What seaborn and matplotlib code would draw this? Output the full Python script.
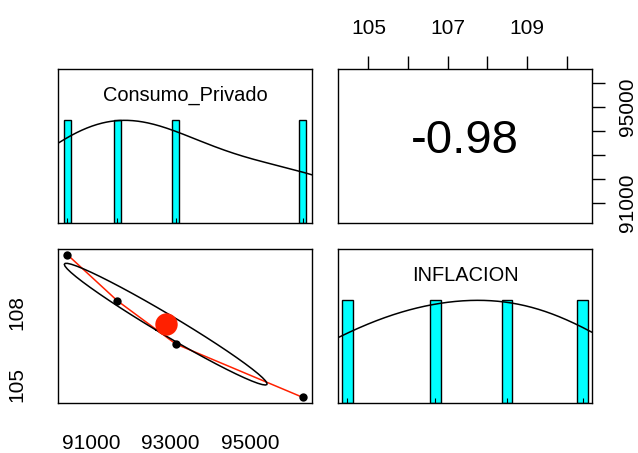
import numpy as np
import pandas as pd
import matplotlib
matplotlib.use("Agg")
import matplotlib.pyplot as plt
import seaborn as sns

sns.set_style("white")
plt.rcParams['font.family'] = ['Liberation Sans', 'DejaVu Sans']
plt.rcParams['text.color'] = 'black'

# ---- data ----
var_names = ["Consumo_Privado", "INFLACION"]
consumo = [90392, 91649, 93127, 96332]
inflacion = [110.40, 108.49, 106.69, 104.47]

consumo_ticks = [91000, 92000, 93000, 94000, 95000, 96000]
consumo_bottom_labels = ["91000", "", "93000", "", "95000", ""]
consumo_right_labels = ["91000", "", "", "", "95000", ""]
inflacion_ticks = [105, 106, 107, 108, 109, 110]
inflacion_top_labels = ["105", "", "107", "", "109", ""]
inflacion_left_labels = ["105", "", "", "108", "", ""]

df = pd.DataFrame({"x": consumo, "y": inflacion})

TICK_FS = 15
LABEL_FS = 14.4
COR_FS = 34
LW = 1.0
TICKLEN = 9.5
PAD = 13

fig = plt.figure(figsize=(6.38, 4.53), dpi=100)
W, H = 638.0, 453.0


def make_ax(x0, y0, x1, y1):
    return fig.add_axes([x0 / W, (H - y1) / H, (x1 - x0) / W, (y1 - y0) / H])


ax_tl = make_ax(58, 69, 312, 223)
ax_tr = make_ax(338, 69, 592, 223)
ax_bl = make_ax(58, 249, 312, 403)
ax_br = make_ax(338, 249, 592, 403)


def rlim(v):
    v = np.asarray(v, float)
    lo, hi = v.min(), v.max()
    d = (hi - lo) * 0.04
    return lo - d, hi + d


xlim_c = rlim(consumo)
xlim_i = rlim(inflacion)


def bw_nrd(v):
    v = np.asarray(v, float)
    q1, q3 = np.percentile(v, [25, 75])
    s = min(np.std(v, ddof=1), (q3 - q1) / 1.34)
    return 1.06 * s * len(v) ** (-0.2)


def diag_panel(ax, v, lim, width, name):
    v = np.asarray(v, float)
    ax.set_xlim(*lim)
    ax.set_ylim(0, 1.5)
    counts = np.ones_like(v)
    counts = counts / counts.max()
    ax.bar(v, counts, width=width, color="#00FFFF", edgecolor="black",
           linewidth=LW, align="center", zorder=2)
    bw = bw_nrd(v) * 1.2
    grid = np.linspace(lim[0], lim[1], 300)
    dens = np.exp(-0.5 * ((grid[:, None] - v[None, :]) / bw) ** 2).sum(axis=1)
    full = np.linspace(v.min() - 3 * bw, v.max() + 3 * bw, 512)
    dfull = np.exp(-0.5 * ((full[:, None] - v[None, :]) / bw) ** 2).sum(axis=1)
    dens = dens / dfull.max()
    sns.lineplot(x=grid, y=dens, ax=ax, color="black", linewidth=1.1,
                 sort=False, estimator=None, zorder=3)
    ax.vlines(v, 0, 0.045, color="black", linewidth=0.8, zorder=3)
    ax.text(0.5, 0.831, name, transform=ax.transAxes, ha="center",
            va="center", fontsize=LABEL_FS, color="black")
    ax.set_xticks([])
    ax.set_yticks([])


diag_panel(ax_tl, consumo, xlim_c, 185, var_names[0])
diag_panel(ax_br, inflacion, xlim_i, 0.26, var_names[1])

# ---- scatter panel ----
ax = ax_bl
ax.set_xlim(*xlim_c)
ax.set_ylim(*xlim_i)
sns.lineplot(data=df.sort_values("x"), x="x", y="y", ax=ax, color="#FF2000",
             linewidth=1.1, sort=False, estimator=None, zorder=2)
sns.scatterplot(data=df, x="x", y="y", ax=ax, color="black", s=36,
                edgecolor="black", linewidth=0, zorder=4)
xm, ym = np.mean(consumo), np.mean(inflacion)
xs, ys = np.std(consumo, ddof=1), np.std(inflacion, ddof=1)
r = np.corrcoef(consumo, inflacion)[0, 1]
ang = np.arange(52) * 2 * np.pi / 51
circ = np.column_stack([np.cos(ang), np.sin(ang)])
th = np.sign(r) / np.sqrt(2)
shape = np.diag([np.sqrt(1 + r), np.sqrt(1 - r)]) @ np.array([[th, th], [-th, th]])
ell = circ @ shape
ax.plot(ell[:, 0] * xs + xm, ell[:, 1] * ys + ym, color="black", linewidth=1.1, zorder=3)
sns.scatterplot(x=[xm], y=[ym], ax=ax, color="#FF2000", s=260, linewidth=0, zorder=5)
ax.set_xlabel("")
ax.set_ylabel("")
ax.set_xticks(consumo_ticks)
ax.set_xticklabels(consumo_bottom_labels)
ax.set_yticks(inflacion_ticks)
ax.set_yticklabels(inflacion_left_labels, rotation=90, va="center")

# ---- correlation panel ----
ax = ax_tr
ax.set_xlim(*xlim_i)
ax.set_ylim(*xlim_c)
ax.text(0.5, 0.53, f"{r:.2f}", transform=ax.transAxes, ha="center",
        va="center", fontsize=COR_FS, color="black")
ax.xaxis.tick_top()
ax.yaxis.tick_right()
ax.set_xticks(inflacion_ticks)
ax.set_xticklabels(inflacion_top_labels)
ax.set_yticks(consumo_ticks)
ax.set_yticklabels(consumo_right_labels, rotation=90, va="center")

for a in (ax_tl, ax_tr, ax_bl, ax_br):
    for s in a.spines.values():
        s.set_visible(True)
        s.set_color("black")
        s.set_linewidth(LW)
    a.tick_params(direction="out", length=TICKLEN, width=LW, pad=PAD,
                  labelsize=TICK_FS, colors="black")
    a.set_facecolor("white")
ax_tr.tick_params(axis="y", pad=9)

fig.savefig("out.png", dpi=100, facecolor="white")
